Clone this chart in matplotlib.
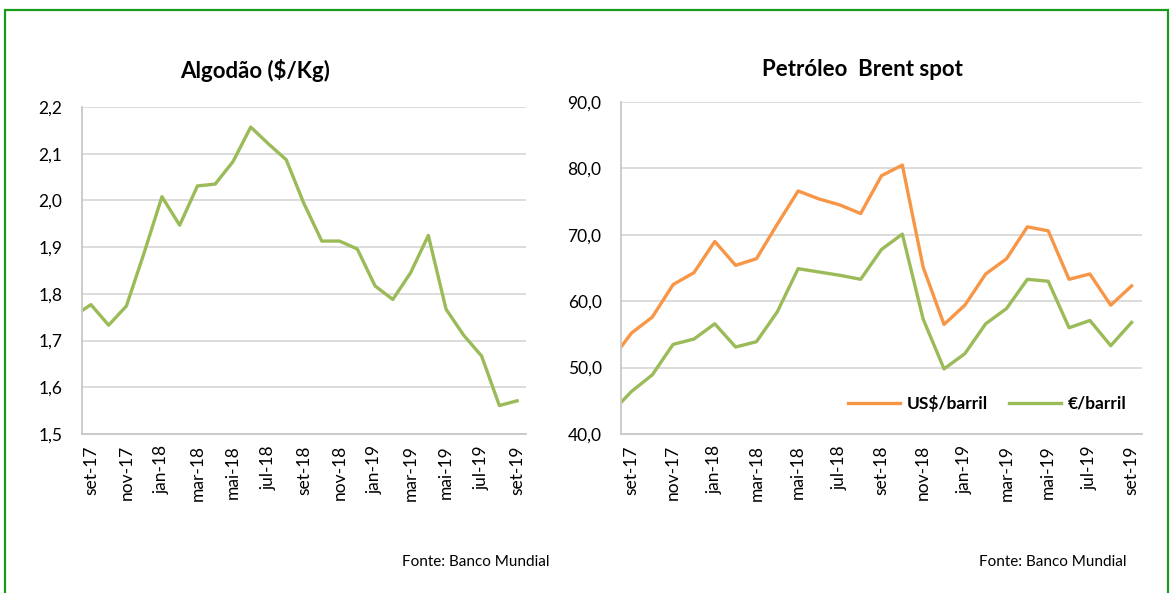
import matplotlib
matplotlib.use("Agg")
import matplotlib.pyplot as plt
from matplotlib.ticker import FuncFormatter
from matplotlib.patches import Rectangle

plt.rcParams['font.family'] = ['Lato', 'DejaVu Sans']

# months from ago-17 to set-19 (ago-17 is cut off by the axis on the left)
months = ["ago-17", "set-17", "out-17", "nov-17", "dez-17",
          "jan-18", "fev-18", "mar-18", "abr-18", "mai-18", "jun-18",
          "jul-18", "ago-18", "set-18", "out-18", "nov-18", "dez-18",
          "jan-19", "fev-19", "mar-19", "abr-19", "mai-19", "jun-19",
          "jul-19", "ago-19", "set-19"]

algodao = [1.751, 1.777, 1.733, 1.774, 1.888, 2.008, 1.947, 2.031, 2.035,
           2.083, 2.157, 2.121, 2.087, 1.993, 1.913, 1.913, 1.896, 1.817,
           1.788, 1.845, 1.925, 1.767, 1.711, 1.667, 1.561, 1.571]

brent_usd = [51.0, 55.2, 57.6, 62.5, 64.3, 69.0, 65.4, 66.4, 71.6, 76.6,
             75.4, 74.5, 73.2, 78.9, 80.5, 65.1, 56.5, 59.4, 64.1, 66.4,
             71.2, 70.6, 63.3, 64.1, 59.4, 62.3]

brent_eur = [43.1, 46.4, 48.9, 53.5, 54.3, 56.6, 53.1, 53.9, 58.4, 64.9,
             64.4, 63.9, 63.3, 67.8, 70.1, 57.3, 49.8, 52.1, 56.6, 58.9,
             63.3, 63.0, 56.0, 57.1, 53.3, 56.8]

GREEN = "#9BBB59"
ORANGE = "#F79646"
GRID = "#d9d9d9"

W, H = 1172, 593
fig = plt.figure(figsize=(W / 100, H / 100), dpi=100)

# green frame round the whole picture
fig.patches.append(Rectangle((5 / W, -0.05), (1168 - 5) / W, 1.05 - 10 / H,
                             transform=fig.transFigure, fill=False,
                             edgecolor="#1a9a1a", linewidth=1.6))


def px_axes(x0, y0, x1, y1):
    return fig.add_axes([x0 / W, 1 - y1 / H, (x1 - x0) / W, (y1 - y0) / H])


def style(ax, ymin, ymax, step, fmt):
    x = list(range(-1, len(months) - 1))
    ax.set_xlim(-0.5, 24.5)
    ax.set_ylim(ymin, ymax)
    ax.set_yticks([ymin + i * step for i in range(int(round((ymax - ymin) / step)) + 1)])
    ax.yaxis.set_major_formatter(FuncFormatter(lambda v, p: fmt.format(v).replace(".", ",")))
    ticks = x[1::2]
    ax.set_xticks(ticks)
    ax.set_xticklabels(months[1::2], rotation=90, fontsize=12)
    ax.tick_params(axis="both", length=0, labelsize=12.5, colors="black")
    ax.tick_params(axis="x", pad=8)
    ax.tick_params(axis="y", pad=14)
    ax.grid(axis="y", color=GRID, linewidth=1.3)
    ax.set_axisbelow(True)
    for s in ["top", "right"]:
        ax.spines[s].set_visible(False)
    for s in ["left", "bottom"]:
        ax.spines[s].set_color("#c8c8c8")
        ax.spines[s].set_linewidth(1.3)
    return x


ax1 = px_axes(82, 107, 526, 434)
x = style(ax1, 1.5, 2.2, 0.1, "{:.1f}")
ax1.plot(x, algodao, color=GREEN, linewidth=2.4)

ax2 = px_axes(621, 102, 1142, 434)
x = style(ax2, 40, 90, 10, "{:.1f}")
ax2.plot(x, brent_usd, color=ORANGE, linewidth=2.4, label="US$/barril")
ax2.plot(x, brent_eur, color=GREEN, linewidth=2.4, label="€/barril")
leg = ax2.legend(loc="lower right", bbox_to_anchor=(1.0, 0.02), ncol=2, frameon=False,
                 prop={"weight": "bold", "size": 12.5}, handlelength=3.0,
                 columnspacing=1.2, handletextpad=0.4)

fig.text(255 / W, 1 - 70 / H, "Algodão ($/Kg)", fontsize=16,
         fontweight="bold", ha="center", va="center")
fig.text(862 / W, 1 - 69 / H, "Petróleo  Brent spot", fontsize=16,
         fontweight="bold", ha="center", va="center")

fig.text(476 / W, 1 - 562 / H, "Fonte: Banco Mundial", fontsize=11,
         ha="center", va="center")
fig.text(1053 / W, 1 - 562 / H, "Fonte: Banco Mundial", fontsize=11,
         ha="center", va="center")

fig.savefig("out.png", dpi=100)
